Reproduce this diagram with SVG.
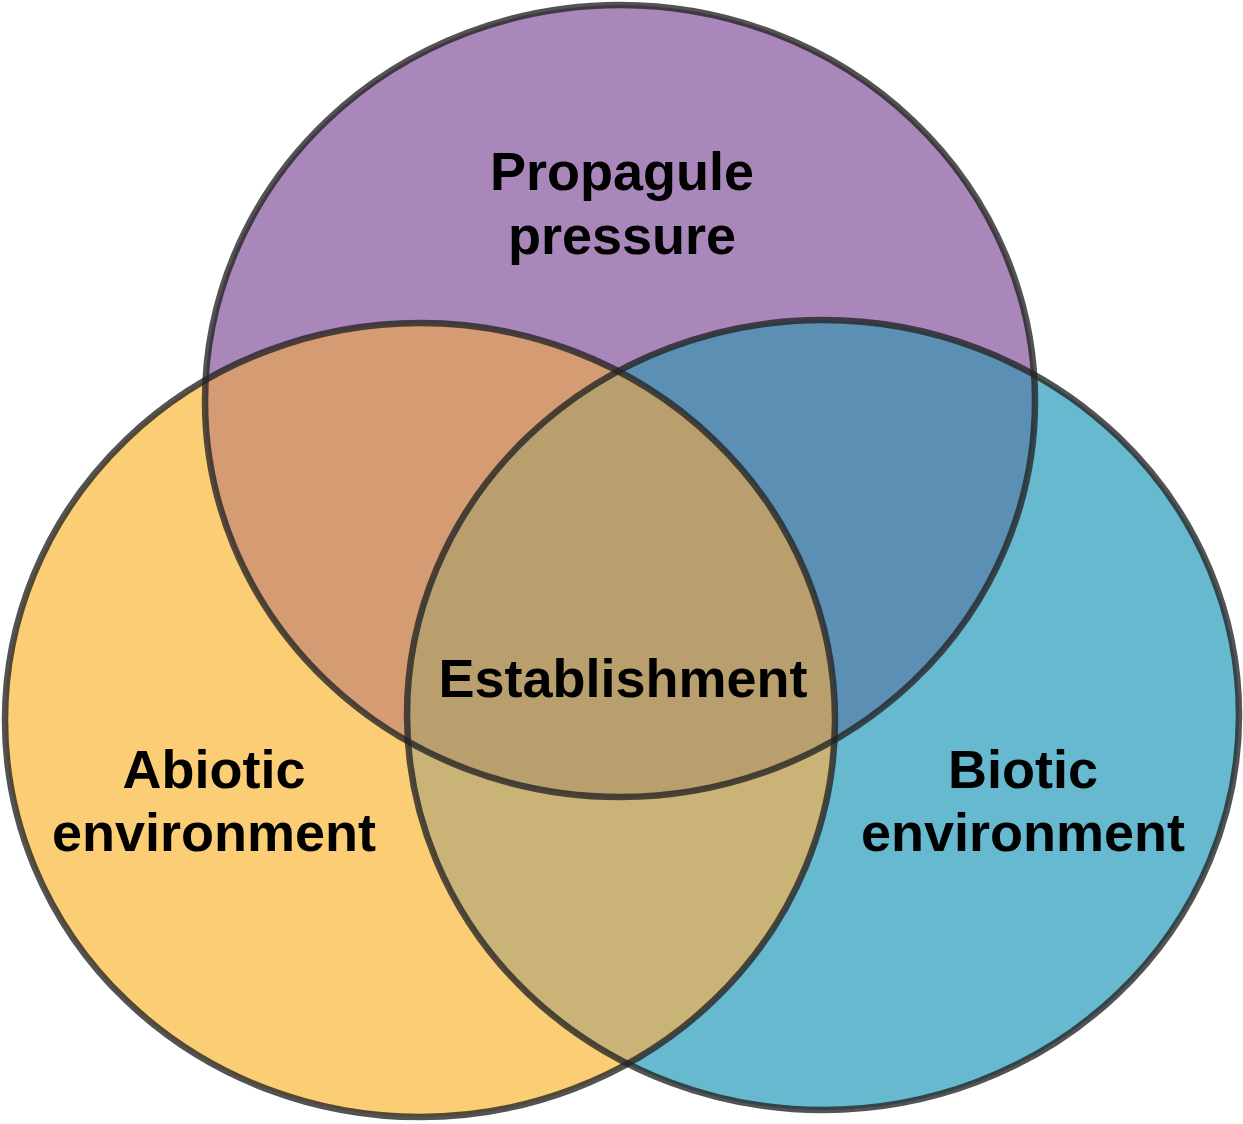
<svg xmlns="http://www.w3.org/2000/svg" width="1243" height="1124" viewBox="0 0 1243 1124">
<style>
.lbl{font-family:"Liberation Sans",Arial,sans-serif;font-weight:bold;font-size:54px;fill:#000;text-anchor:middle}
.edge{fill:none;stroke:#222;stroke-opacity:0.78;stroke-width:6.5}
</style>
<defs>
<ellipse id="eTop" cx="620" cy="401" rx="415" ry="396"/>
<ellipse id="eLeft" cx="420" cy="720" rx="415" ry="397"/>
<ellipse id="eRight" cx="823" cy="715" rx="416" ry="395"/>
<clipPath id="cTop"><use href="#eTop"/></clipPath>
<clipPath id="cRight"><use href="#eRight"/></clipPath>
<clipPath id="cTopRight" clip-path="url(#cTop)"><use href="#eRight"/></clipPath>
</defs>
<g id="fills">
<use href="#eLeft" fill="#FBCE76"/>
<use href="#eRight" fill="#66B9CF"/>
<use href="#eTop" fill="#A987BA"/>
<use href="#eLeft" fill="#D59C73" clip-path="url(#cTop)"/>
<use href="#eRight" fill="#5B90B4" clip-path="url(#cTop)"/>
<use href="#eLeft" fill="#CAB377" clip-path="url(#cRight)"/>
<use href="#eLeft" fill="#B89F6D" clip-path="url(#cTopRight)"/>
</g>
<g id="outlines">
<use href="#eLeft" class="edge"/>
<use href="#eRight" class="edge"/>
<use href="#eTop" class="edge"/>
</g>
<g id="propagule"><text class="lbl" x="622" y="190">Propagule</text><text class="lbl" x="622" y="254">pressure</text></g>
<g id="abiotic"><text class="lbl" x="214" y="788">Abiotic</text><text class="lbl" x="214" y="851">environment</text></g>
<g id="biotic"><text class="lbl" x="1023" y="788">Biotic</text><text class="lbl" x="1023" y="851">environment</text></g>
<g id="establishment"><text class="lbl" x="623" y="697">Establishment</text></g>
</svg>
